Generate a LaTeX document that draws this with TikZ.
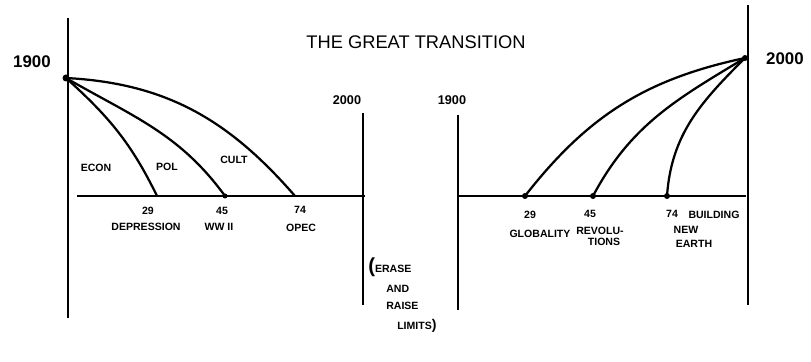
\documentclass[tikz,border=0pt]{standalone}
\usepackage{fontspec}
\setmainfont{Liberation Sans}
\begin{document}
\begin{tikzpicture}[x=0.025cm,y=0.025cm,
  axis/.style={line width=1.5pt},
  curve/.style={line width=1.6pt},
  lbl/.style={font=\fontsize{7.5}{9}\selectfont\bfseries,inner sep=0pt},
  yr/.style={font=\small\bfseries,inner sep=0pt}]
\useasboundingbox (0,0) rectangle (811,362);
% title
\node[font=\fontsize{13}{15}\selectfont,inner sep=0pt] (title) at (416,320) {THE GREAT TRANSITION};
% left panel
\draw[axis] (68,344) -- (68,44);
\draw[axis] (77,166) -- (365,166);
\draw[axis] (363,249) -- (363,57);
\coordinate (o) at (66,284);
\coordinate (d29) at (157,166);
\coordinate (d45) at (225,166);
\coordinate (d74) at (295,166);
\fill (o) circle (3.5);
\fill (d45) circle (2.5);
\draw[curve] (o) to[out=-42,in=116] (d29);
\draw[curve] (o) to[out=-30,in=126] (d45);
\draw[curve] (o) to[out=-3,in=131] (d74);
\node[font=\large\bfseries,inner sep=0pt] (y1900) at (32,300) {1900};
\node[yr] (y2000) at (347,262) {2000};
\node[lbl] (econ) at (96,194) {ECON};
\node[lbl] (pol) at (167,195) {POL};
\node[lbl] (cult) at (234,202) {CULT};
\node[lbl] (n29) at (148,151) {29};
\node[lbl] (dep) at (146,135) {DEPRESSION};
\node[lbl] (n45) at (222,151) {45};
\node[lbl] (ww) at (219,135) {WW II};
\node[lbl] (n74) at (300,152) {74};
\node[lbl] (opec) at (301,134) {OPEC};
\node[lbl,anchor=west] (erase) at (368,95) {\Large(\fontsize{7.5}{9}\selectfont ERASE};
\node[lbl,anchor=west] (and) at (386,73) {AND};
\node[lbl,anchor=west] (raise) at (386,56) {RAISE};
\node[lbl,anchor=west] (limits) at (397,36) {LIMITS\normalsize)};
% right panel
\draw[axis] (458,247) -- (458,52);
\draw[axis] (458,166) -- (746,166);
\draw[axis] (748,357) -- (748,57);
\coordinate (t) at (745,304);
\coordinate (g29) at (525,166);
\coordinate (g45) at (593,166);
\coordinate (g74) at (667,166);
\foreach \p in {t,g29,g45,g74} \fill (\p) circle (3);
\draw[curve] (g29) to[out=52,in=192] (t);
\draw[curve] (g45) to[out=62,in=211] (t);
\draw[curve] (g74) to[out=86,in=225] (t);
\node[yr] (z1900) at (452,262) {1900};
\node[font=\large\bfseries,inner sep=0pt] (z2000) at (785,303) {2000};
\node[lbl] (m29) at (530,147) {29};
\node[lbl] (glob) at (540,128) {GLOBALITY};
\node[lbl] (m45) at (590,148) {45};
\node[lbl] (rev) at (600,131) {REVOLU-};
\node[lbl] (tions) at (604,120) {TIONS};
\node[lbl] (m74) at (672,148) {74};
\node[lbl] (build) at (714,147) {BUILDING};
\node[lbl] (new) at (686,132) {NEW};
\node[lbl] (earth) at (694,118) {EARTH};
\end{tikzpicture}
\end{document}
